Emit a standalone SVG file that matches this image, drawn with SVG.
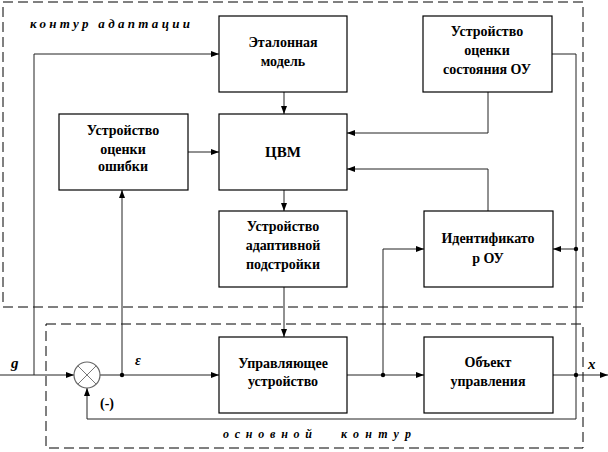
<svg xmlns="http://www.w3.org/2000/svg" width="608" height="452" viewBox="0 0 608 452" font-family="Liberation Serif, DejaVu Serif, serif">
<style>
.box{fill:#fff;stroke:#000;stroke-width:1.2}
.t{font-weight:bold;font-size:14px;text-anchor:middle;fill:#000}
.lab{font-weight:bold;font-style:italic;fill:#000}
.ln{fill:none;stroke:#222;stroke-width:1}
.arr{marker-end:url(#ah)}
.cont{fill:none;stroke:#000;stroke-width:1;stroke-dasharray:10,5}
</style>
<defs>
<marker id="ah" viewBox="0 0 8 6" refX="8" refY="3" markerWidth="8" markerHeight="6" markerUnits="userSpaceOnUse" orient="auto">
<path d="M0,0 L8,3 L0,6 z" fill="#000"/>
</marker>
</defs>
<rect width="608" height="452" fill="#fff"/>
<g id="contours">
<rect class="cont" x="3" y="2" width="580" height="305"/>
<rect class="cont" x="46" y="324" width="537" height="124"/>
</g>
<g id="connectors">
<path class="ln arr" d="M0,375 H74"/>
<path class="ln arr" d="M34,375 V54 H219"/>
<path class="ln arr" d="M100,375 H219"/>
<path class="ln arr" d="M122,375 V190"/>
<path class="ln arr" d="M188,152 H219"/>
<path class="ln arr" d="M284,92 V114"/>
<path class="ln arr" d="M284,190 V211"/>
<path class="ln arr" d="M284,287 V337"/>
<path class="ln arr" d="M488,92 V133 H347"/>
<path class="ln arr" d="M488,211 V169 H347"/>
<path class="ln arr" d="M347,375 H424"/>
<path class="ln arr" d="M383,375 V249 H424"/>
<path class="ln arr" d="M553,375 H608"/>
<path class="ln" d="M552,54 H576 V419 H87"/>
<path class="ln arr" d="M87,419 V388"/>
<path class="ln arr" d="M576,249 H553"/>
<circle cx="122" cy="375" r="2.2" fill="#000"/>
<circle cx="383" cy="375" r="2.2" fill="#000"/>
<circle cx="576" cy="375" r="2.2" fill="#000"/>
<circle cx="576" cy="249" r="2.2" fill="#000"/>
</g>
<g id="sum">
<circle cx="87" cy="375" r="13" fill="#fff" stroke="#666" stroke-width="1.2"/>
<path d="M77.8,365.8 L96.2,384.2 M96.2,365.8 L77.8,384.2" stroke="#777" stroke-width="1"/>
</g>
<g id="etalon">
<rect class="box" x="219" y="16" width="128" height="76"/>
<text class="t" x="283" y="47">Эталонная</text>
<text class="t" x="283" y="66">модель</text>
</g>
<g id="sostoyanie">
<rect class="box" x="423" y="16" width="129" height="76"/>
<text class="t" x="487" y="36">Устройство</text>
<text class="t" x="487" y="55">оценки</text>
<text class="t" x="487" y="74">состояния ОУ</text>
</g>
<g id="oshibka">
<rect class="box" x="59" y="114" width="129" height="76"/>
<text class="t" x="123" y="135">Устройство</text>
<text class="t" x="123" y="154">оценки</text>
<text class="t" x="123" y="171">ошибки</text>
</g>
<g id="cvm">
<rect class="box" x="219" y="114" width="128" height="76"/>
<text class="t" x="283" y="157" style="font-size:15px">ЦВМ</text>
</g>
<g id="adapt">
<rect class="box" x="219" y="211" width="128" height="76"/>
<text class="t" x="283" y="231">Устройство</text>
<text class="t" x="283" y="250">адаптивной</text>
<text class="t" x="283" y="269">подстройки</text>
</g>
<g id="ident">
<rect class="box" x="424" y="211" width="129" height="76"/>
<text class="t" x="488" y="243">Идентификато</text>
<text class="t" x="488" y="263">р ОУ</text>
</g>
<g id="upr">
<rect class="box" x="219" y="337" width="128" height="76"/>
<text class="t" x="283" y="368">Управляющее</text>
<text class="t" x="283" y="386">устройство</text>
</g>
<g id="obj">
<rect class="box" x="424" y="337" width="129" height="76"/>
<text class="t" x="488" y="367">Объект</text>
<text class="t" x="488" y="386">управления</text>
</g>
<g id="labels">
<text class="lab" x="30" y="28" font-size="13" textLength="160" lengthAdjust="spacing">контур  адаптации</text>
<text class="lab" x="223" y="438" font-size="12" textLength="89" lengthAdjust="spacing">основной</text>
<text class="lab" x="341" y="438" font-size="12" textLength="70" lengthAdjust="spacing">контур</text>
<text class="lab" x="11" y="368" font-size="15">g</text>
<text class="lab" x="135" y="365" font-size="14">ε</text>
<text class="lab" x="100" y="408" font-size="14" style="font-style:normal">(-)</text>
<text class="lab" x="588" y="369" font-size="15">x</text>
</g>
</svg>
